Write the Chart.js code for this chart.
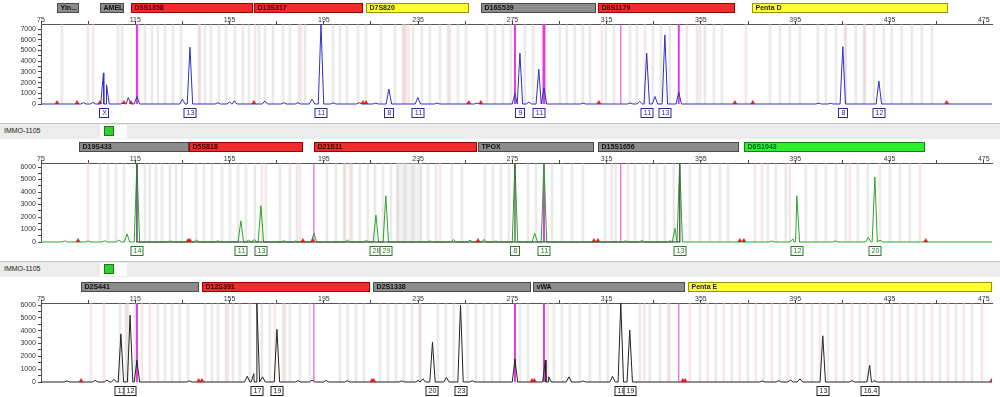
<!DOCTYPE html>
<html><head><meta charset="utf-8">
<script src="https://cdn.jsdelivr.net/npm/chart.js@4"></script>
<style>
body{margin:0;width:1000px;height:397px;background:#fff;position:relative;overflow:hidden;font-family:"Liberation Sans",Arial,sans-serif}
.hdr{position:absolute;left:0;width:1000px;height:15px;background:#ececec;border-top:1px solid #c4c4c4}
.hdr span{position:absolute;left:4px;top:3px;font-size:7px;color:#222;-webkit-font-smoothing:antialiased}
.hdr .box{position:absolute;left:100px;top:1px;width:27px;height:13px;background:#fff}
.hdr .sq{position:absolute;left:104px;top:2px;width:8px;height:8px;background:#2fd02f;border:1px solid #177a17}
canvas{position:absolute;left:0}
</style></head>
<body>
<canvas id="c1" width="1000" height="122" style="top:0px"></canvas>
<div class="hdr" style="top:123px"><span>IMMO-1105</span><div class="box"></div><div class="sq"></div></div>
<canvas id="c2" width="1000" height="121" style="top:140px"></canvas>
<div class="hdr" style="top:261px"><span>IMMO-1105</span><div class="box"></div><div class="sq"></div></div>
<canvas id="c3" width="1000" height="119" style="top:278px"></canvas>
<script>
// ---------- axis ticks ----------
const xTicks = [75,95,115,135,155,175,195,215,235,255,275,295,315,335,355,375,395,415,435,455,475];
const xTickLabels = ['75','','115','','155','','195','','235','','275','','315','','355','','395','','435','','475'];
const yTicks1 = [0,500,1000,1500,2000,2500,3000,3500,4000,4500,5000,5500,6000,6500,7000];
const yTicks2 = [0,500,1000,1500,2000,2500,3000,3500,4000,4500,5000,5500,6000];
const yTicks3 = [0,500,1000,1500,2000,2500,3000,3500,4000,4500,5000,5500,6000];

// ---------- panel 1 (blue) ----------
const loci1 = [['Yin...',81.8,91.1,'gray'],['AMEL',100,110.2,'gray'],['D3S1358',113.2,164.9,'red'],['D13S317',165.3,211.6,'red'],['D7S820',212.9,256.5,'yellow'],['D16S539',261.6,310.4,'gray'],['D8S1179',311.3,369.4,'red'],['Penta D',376.6,459.7,'yellow']];
const peaks1 = [[93,120],[97,150],[101.5,2900],[102.8,1800],[110,150],[112,600],[115.7,700],[135,450],[138.2,5300],[150,120],[155,200],[157,300],[170,280],[178,120],[184,120],[190,450],[193.8,7450],[199,100],[210,120],[217,80],[222.6,1400],[234.9,600],[243,80],[260,80],[276.1,1000],[278.2,4750],[282,180],[286.2,3250],[288.4,1500],[305,80],[325,100],[329,250],[332,4750],[335.5,700],[339.7,6450],[345.6,1100],[405,80],[410,60],[415.2,5350],[430.5,2150]];
const alleles1 = [[101.8,'X'],[138.2,'13'],[193.8,'11'],[222.6,'8'],[234.9,'11'],[278.2,'9'],[286.2,'11'],[332,'11'],[339.7,'13'],[415.2,'8'],[430.5,'12']];
const markers1 = [81.8,90.3,100.0,110.2,113.2,165.3,211.6,212.9,256.5,261.6,311.7,369.4,377.0,459.3];
const magenta1 = [[115.7,2],[276.1,2],[288.4,3],[321.0,1],[345.6,2]];
const binsGray1 = [83.9,94.9,107.7,109.4,119.1,122.1,124.6,127.6,131.0,134.4,142.0,144.6,147.1,150.5,153.5,157.3,160.7,163.2,167.5,170.0,173.4,177.7,180.6,184.4,187.0,198.9,201.8,204.8,209.5,212.9,219.2,225.2,229.0,232.8,236.6,240.0,244.3,247.7,251.9,255.3,264.2,267.6,271.0,274.4,280.3,283.7,295.2,298.1,301.5,304.9,307.9,314.7,318.1,324.9,327.8,334.6,338.0,341.8,349.0,353.3,356.7,360.5,363.9,384.3,388.5,392.7,397.0,404.6,408.0,412.3,416.5,420.7,424.1,428.4,432.6,436.0,440.2,444.5,448.7,453.0];
const binsPink1 = [97.1,116.3,142.4,165.8,185.3,228.6,229.8,231.0,248.5,313.0,331.2,354.6,374.1,416.1,424.6];

// ---------- panel 2 (green) ----------
const loci2 = [['D19S433',91.1,137.8,'gray'],['D5S818',137.8,186.1,'red'],['D21S11',190.8,259.9,'red'],['TPOX',260.4,309.6,'gray'],['D15S1656',311.3,371.1,'gray'],['D6S1043',373.2,450.0,'green']];
const peaks2 = [[85,80],[95,80],[102,100],[108,150],[111.5,650],[115.7,6320],[130,80],[138,150],[141,150],[150,100],[159.8,1700],[163,150],[165.5,200],[168.3,2900],[178,100],[183,80],[190.8,700],[205,150],[213,120],[217.1,2150],[221.3,3700],[240,80],[250,200],[257,150],[263,200],[268,80],[276.1,6320],[284.5,700],[288.4,6320],[323,100],[330,120],[342,100],[344,1100],[346,6320],[385,80],[394,250],[395.7,3700],[412,80],[426,350],[428.8,5200],[431,150]];
const saturated2 = [[115.7,6320],[276.1,6320],[346,6320]];
const alleles2 = [[115.7,'14'],[159.8,'11'],[168.3,'13'],[217.1,'28'],[221.3,'29'],[276.1,'8'],[288.4,'11'],[346,'13'],[395.7,'12'],[428.8,'20']];
const markers2 = [90.7,137.4,138.2,186.1,190.3,260.4,309.6,311.3,371.5,373.2,450.4];
const magenta2 = [[115.7,1],[190.8,1],[288.4,2],[321.0,1],[346,1]];
const binsGray2 = [100.0,103.4,106.8,110.2,119.1,121.2,123.8,126.3,129.7,132.3,134.8,140.8,144.1,147.5,151.8,155.2,158.6,162.0,165.8,170.4,176.4,180.6,183.6,196.3,200.1,203.5,206.9,210.3,213.7,216.7,220.1,223.5,226.4,229.4,232.8,236.2,239.2,242.6,249.3,253.6,263.3,266.7,270.1,273.5,281.6,285.0,291.8,296.0,300.3,304.9,314.3,318.9,327.0,330.4,333.3,336.3,339.7,343.5,350.3,354.6,358.8,363.1,366.5,377.9,383.4,386.8,391.0,399.5,403.8,408.0,412.3,416.5,421.6,425.8,435.2,439.4,443.6];
const binsPink2 = [94.9,168.7,184.9,204.0,206.1,244.3,317.2,324.0,380.9,392.7,418.2,430.9,447.9];
const band2 = [[225.5,236.5]];

// ---------- panel 3 (black) ----------
const loci3 = [['D2S441',92.0,142.0,'gray'],['D12S391',143.3,214.6,'red'],['D2S1338',215.8,282.9,'gray'],['vWA',283.7,348.2,'gray'],['Penta E',349.5,478.4,'yellow']];
const peaks3 = [[86,80],[98,120],[103,150],[106,200],[108.9,3750],[112.8,5200],[115.7,1700],[138,80],[162.5,450],[165.3,650],[166.6,6100],[169,400],[175.1,4100],[184,100],[190,150],[196,120],[205,100],[228,80],[235,120],[237,250],[241.1,3100],[247,350],[253,6000],[258,100],[276.1,1800],[289,1700],[290.4,400],[299,400],[305,80],[317.5,450],[321,6150],[324.8,4050],[381,80],[388,100],[393,150],[397,250],[406.7,3600],[419,100],[426.6,1300],[428.5,100]];
const alleles3 = [[108.9,'11'],[112.8,'12'],[166.6,'17'],[175.1,'19'],[241.1,'20'],[253,'23'],[321,'18'],[324.8,'19'],[406.7,'13'],[426.6,'16.4']];
const markers3 = [92.0,141.9,143.3,215.4,216.2,283.3,284.3,347.3,348.3,478.4];
const magenta3 = [[115.7,2],[190.8,1],[276.1,2],[288.4,2],[345.6,1]];
const binsGray3 = [108.5,111.1,114.9,124.6,127.6,130.6,133.9,137.4,144.6,147.5,150.1,153.5,156.4,159.4,163.6,168.7,172.1,177.7,180.6,184.9,189.1,201.8,205.2,208.6,212.0,218.8,222.2,225.6,229.0,232.4,235.8,243.4,246.8,250.2,256.1,259.5,262.9,266.3,269.7,278.2,281.6,292.6,296.0,299.4,303.6,307.9,312.1,315.5,329.1,333.3,337.6,341.8,354.6,361.3,368.1,374.9,381.7,388.5,395.3,402.1,408.9,415.6,422.4,429.2,436.0,442.8,449.6,456.4,463.2,470.0];
const binsPink3 = [96.2,101.7,111.9,117.8,121.2,154.3,174.3,178.5,235.8,290.1,331.0,341.0,350.3,357.9,364.7,371.5,378.3,385.1,391.9,398.7,405.5,412.3,419.1,425.8,432.6,439.4,446.2,453.0,459.8,466.5,474.2];

// ---------- rendering ----------
const X_MIN = 75, X_MAX = 478.5, HW = 1.15, BIN_W = 1.1;
const FONT = '"Liberation Sans", Arial, sans-serif';
const LOCUS_STYLE = {
  gray:['#8c8c8c','#4a4a4a','#111'],
  red:['#f02c2c','#9a0000','#3a0000'],
  yellow:['#ffff35','#9a9000','#222'],
  green:['#2cf02c','#138013','#062']
};

function trace(peaks){
  const pts=[{x:X_MIN,y:0}];
  peaks.forEach(p=>{pts.push({x:p[0]-HW,y:0},{x:p[0],y:p[1]},{x:p[0]+HW,y:0});});
  pts.push({x:X_MAX,y:0});
  return pts.sort((a,b)=>a.x-b.x);
}

function deco(cfg){
  return {
    id:'deco',
    beforeDatasetsDraw(chart){
      const {ctx,chartArea:a,scales:{x}}=chart;
      const bw = x.getPixelForValue(X_MIN+BIN_W)-x.getPixelForValue(X_MIN);
      ctx.save();
      ctx.beginPath(); ctx.rect(a.left,a.top,a.right-a.left,a.bottom-a.top); ctx.clip();
      (cfg.bands||[]).forEach(b=>{const p0=x.getPixelForValue(b[0]),p1=x.getPixelForValue(b[1]);ctx.fillStyle='rgba(225,225,225,0.45)';ctx.fillRect(p0,a.top,p1-p0,a.bottom-a.top);});
      ctx.fillStyle='rgba(248,205,205,0.5)';
      cfg.binsPink.forEach(b=>{const p=x.getPixelForValue(b);ctx.fillRect(p-bw/2,a.top,bw,a.bottom-a.top);});
      ctx.fillStyle='rgba(200,200,200,0.38)';
      cfg.binsGray.forEach(b=>{const p=x.getPixelForValue(b);ctx.fillRect(p-bw/2,a.top,bw,a.bottom-a.top);});
      cfg.magenta.forEach(m=>{const p=x.getPixelForValue(m[0]);ctx.strokeStyle='#e03ce0';ctx.lineWidth=m[1];ctx.beginPath();ctx.moveTo(p,a.top);ctx.lineTo(p,a.bottom);ctx.stroke();});
      ctx.restore();
    },
    afterDraw(chart){
      const {ctx,chartArea:a,scales:{x}}=chart;
      ctx.save();
      ctx.font='bold 7px '+FONT; ctx.textBaseline='middle';
      cfg.loci.forEach(l=>{
        const s=LOCUS_STYLE[l[3]];
        const x0=Math.round(x.getPixelForValue(l[1]))+0.5, x1=Math.round(x.getPixelForValue(l[2]))-0.5;
        ctx.fillStyle=s[0]; ctx.fillRect(x0,cfg.barY,x1-x0,10);
        ctx.strokeStyle=s[1]; ctx.lineWidth=1; ctx.strokeRect(x0,cfg.barY+0.5,x1-x0,9);
        ctx.fillStyle=s[2]; ctx.textAlign='left'; ctx.fillText(l[0],x0+3,cfg.barY+5.5);
      });
      ctx.font='7px '+FONT; ctx.textAlign='center';
      cfg.alleles.forEach(al=>{
        const p=Math.round(x.getPixelForValue(al[0]));
        const w=Math.max(10,Math.ceil(ctx.measureText(al[1]).width)+5);
        const y=a.bottom+4;
        ctx.fillStyle='#fff'; ctx.fillRect(p-w/2,y,w,10);
        ctx.strokeStyle=cfg.boxColor; ctx.lineWidth=1; ctx.strokeRect(p-w/2+0.5,y+0.5,w-1,9);
        ctx.fillStyle=cfg.boxColor; ctx.fillText(al[1],p+0.5,y+5.5);
      });
      ctx.restore();
    }
  };
}

function makePanel(id,cfg){
  const ds=[
    {type:'scatter',data:cfg.markers.map(m=>({x:m,y:cfg.yMax*0.015})),pointStyle:'triangle',pointRadius:2.4,pointBackgroundColor:'#e81818',pointBorderColor:'#e81818',pointBorderWidth:0.5,showLine:false,order:0},
    {data:trace(cfg.peaks),borderColor:cfg.color,borderWidth:1,pointRadius:0,tension:0,fill:false,clip:2,order:2}
  ];
  if(cfg.saturated){ds.push({data:trace(cfg.saturated).filter(p=>p.y>0).flatMap(p=>[{x:p.x,y:0},p,{x:p.x,y:0}]),borderColor:'rgba(70,90,70,0.85)',borderWidth:1.5,pointRadius:0,tension:0,fill:false,clip:2,order:1});}
  new Chart(document.getElementById(id),{
    type:'line',
    data:{datasets:ds},
    options:{
      responsive:false,animation:false,events:[],
      layout:{padding:{top:cfg.padTop,bottom:cfg.padBottom,left:0,right:8}},
      plugins:{legend:{display:false},tooltip:{enabled:false}},
      scales:{
        x:{type:'linear',position:'top',min:X_MIN,max:X_MAX,
          afterBuildTicks(s){s.ticks=xTicks.map(v=>({value:v}));},
          afterFit(s){s.height=10;},
          ticks:{autoSkip:false,maxRotation:0,padding:-3,font:{size:7,family:FONT},color:'#333',
            callback:(v)=>{const i=xTicks.indexOf(v);return i>=0?xTickLabels[i]:'';}},
          grid:{drawOnChartArea:false,drawTicks:true,tickLength:3,color:'#444'},
          border:{display:true,color:'#555'}},
        y:{type:'linear',min:0,max:cfg.yMax,
          afterBuildTicks(s){s.ticks=cfg.yTicks.map(v=>({value:v}));},
          afterFit(s){s.width=41;},
          ticks:{autoSkip:false,padding:2,font:{size:7,family:FONT},color:'#333',
            callback:(v)=>(v%1000===0?String(v):'')},
          grid:{drawOnChartArea:false,drawTicks:true,tickLength:3,color:'#444'},
          border:{display:true,color:'#555'}}
      }
    },
    plugins:[deco(cfg)]
  });
}

makePanel('c1',{loci:loci1,peaks:peaks1,alleles:alleles1,markers:markers1,magenta:magenta1,binsGray:binsGray1,binsPink:binsPink1,yTicks:yTicks1,
  yMax:7467,color:'#3030c8',boxColor:'#2a2a90',padTop:14,padBottom:18,barY:3});
makePanel('c2',{loci:loci2,peaks:peaks2,saturated:saturated2,alleles:alleles2,markers:markers2,magenta:magenta2,binsGray:binsGray2,binsPink:binsPink2,bands:band2,yTicks:yTicks2,
  yMax:6320,color:'#2aa52a',boxColor:'#2a7a2a',padTop:13,padBottom:19,barY:2});
makePanel('c3',{loci:loci3,peaks:peaks3,alleles:alleles3,markers:markers3,magenta:magenta3,binsGray:binsGray3,binsPink:binsPink3,yTicks:yTicks3,
  yMax:6156,color:'#222222',boxColor:'#222',padTop:15,padBottom:15,barY:4});
</script>
</body></html>
